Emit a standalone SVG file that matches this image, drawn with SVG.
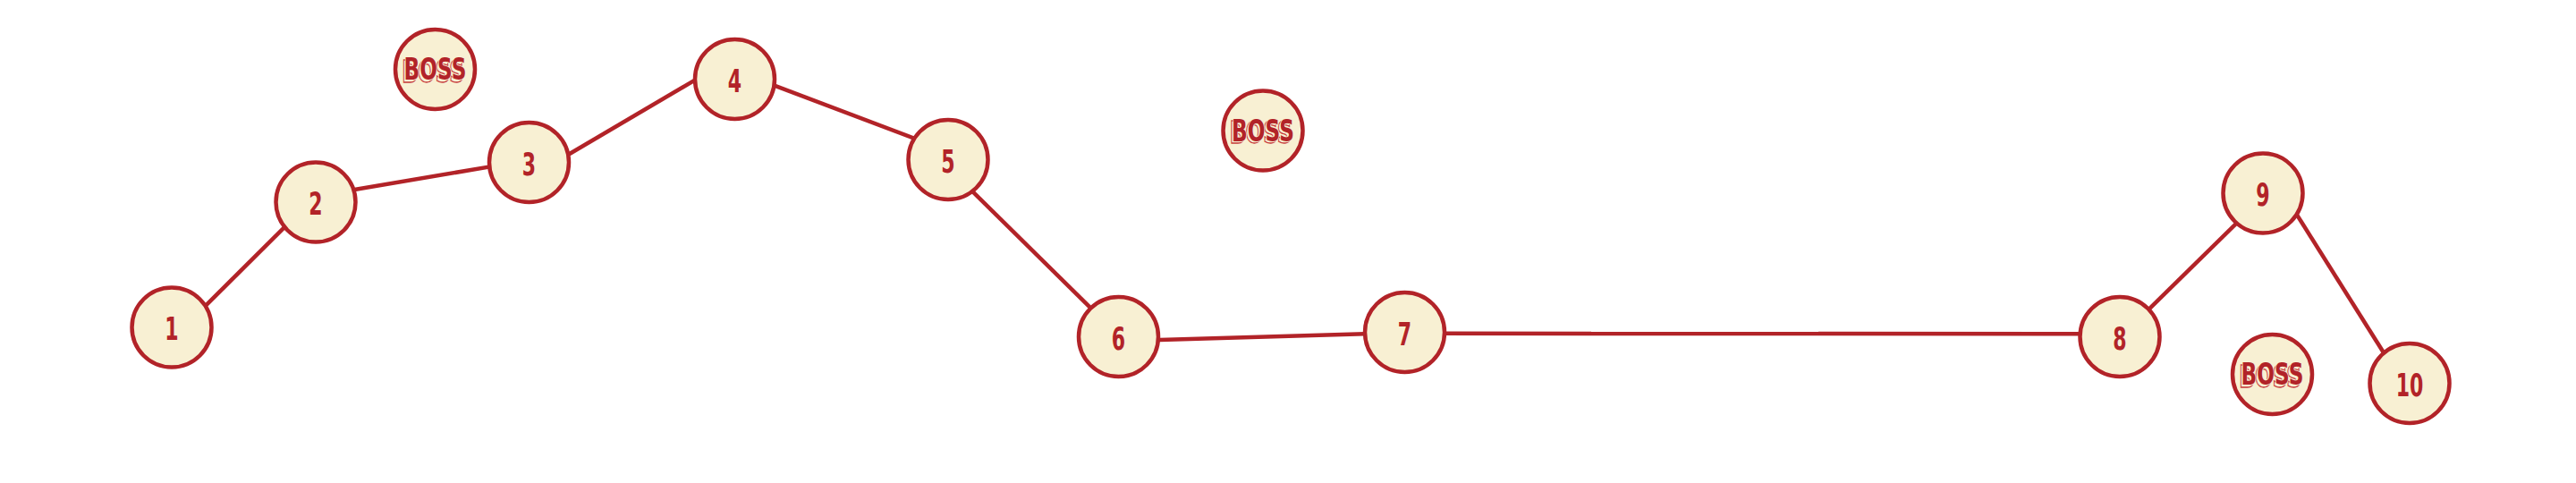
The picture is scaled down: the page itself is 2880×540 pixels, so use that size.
<svg xmlns="http://www.w3.org/2000/svg" width="2880" height="540" viewBox="0 0 2880 540">
<style>
.bg{fill:#ffffff}
.edge{stroke:#b22328;stroke-width:4.5;fill:none;stroke-linecap:butt}
.node{fill:#f8f0d3;stroke:#b22328;stroke-width:4.5}
.num{font-family:"DejaVu Sans Condensed","DejaVu Sans",sans-serif;font-weight:bold;font-size:36px;fill:#b22328;text-anchor:middle}
.boss{font-family:"DejaVu Sans Condensed","DejaVu Sans",sans-serif;font-weight:bold;font-size:34px;fill:#b22328;text-anchor:middle;stroke:#f8f0d3;stroke-width:1.8;paint-order:stroke}
.bossh{font-family:"DejaVu Sans Condensed","DejaVu Sans",sans-serif;font-weight:bold;font-size:34px;fill:#f8f0d3;stroke:#c8403f;stroke-width:1.3;text-anchor:middle}
</style>
<rect class="bg" x="0" y="0" width="2880" height="540"/>
<g id="connectors">
<line class="edge" x1="226" y1="345.6" x2="321.7" y2="250.4"/>
<line class="edge" x1="390.4" y1="213" x2="553.9" y2="185.4"/>
<line class="edge" x1="630.4" y1="175.8" x2="781.9" y2="86.6"/>
<line class="edge" x1="859.2" y1="93.2" x2="1027.5" y2="156.8"/>
<line class="edge" x1="1084.3" y1="211.1" x2="1224" y2="348.9"/>
<line class="edge" x1="1288" y1="380.3" x2="1532" y2="373"/>
<line class="edge" x1="1610" y1="372.8" x2="2332" y2="373.2"/>
<line class="edge" x1="2399.3" y1="348.9" x2="2504" y2="246.1"/>
<line class="edge" x1="2565.7" y1="236.5" x2="2667.6" y2="398.5"/>
</g>
<g id="n1"><circle class="node" cx="192" cy="366" r="44.5"/><text class="num" transform="translate(192,366) scale(0.68,1)" x="0" y="14">1</text></g>
<g id="n2"><circle class="node" cx="353" cy="226" r="44.5"/><text class="num" transform="translate(353,226) scale(0.68,1)" x="0" y="14">2</text></g>
<g id="n3"><circle class="node" cx="591.5" cy="181.5" r="44.5"/><text class="num" transform="translate(591.5,181.5) scale(0.68,1)" x="0" y="14">3</text></g>
<g id="n4"><circle class="node" cx="821.5" cy="88.5" r="44.5"/><text class="num" transform="translate(821.5,88.5) scale(0.68,1)" x="0" y="14">4</text></g>
<g id="n5"><circle class="node" cx="1060" cy="178.5" r="44.5"/><text class="num" transform="translate(1060,178.5) scale(0.68,1)" x="0" y="14">5</text></g>
<g id="n6"><circle class="node" cx="1250.5" cy="376.5" r="44.5"/><text class="num" transform="translate(1250.5,376.5) scale(0.68,1)" x="0" y="14">6</text></g>
<g id="n7"><circle class="node" cx="1570.5" cy="371.5" r="44.5"/><text class="num" transform="translate(1570.5,371.5) scale(0.68,1)" x="0" y="14">7</text></g>
<g id="n8"><circle class="node" cx="2370" cy="376.5" r="44.5"/><text class="num" transform="translate(2370,376.5) scale(0.68,1)" x="0" y="14">8</text></g>
<g id="n9"><circle class="node" cx="2530" cy="216" r="44.5"/><text class="num" transform="translate(2530,216) scale(0.68,1)" x="0" y="14">9</text></g>
<g id="n10"><circle class="node" cx="2694" cy="428.5" r="44.5"/><text class="num" transform="translate(2694,428.5) scale(0.68,1)" x="0" y="14">10</text></g>
<g id="boss1"><circle class="node" cx="486.5" cy="77.5" r="44.5"/><text class="bossh" transform="translate(486.5,77.5) scale(0.76,1)" x="-3.2" y="14">BOSS</text><text class="boss" transform="translate(486.5,77.5) scale(0.76,1)" x="0" y="11.5">BOSS</text></g>
<g id="boss2"><circle class="node" cx="1412" cy="146" r="44.5"/><text class="bossh" transform="translate(1412,146) scale(0.76,1)" x="-3.2" y="14">BOSS</text><text class="boss" transform="translate(1412,146) scale(0.76,1)" x="0" y="11.5">BOSS</text></g>
<g id="boss3"><circle class="node" cx="2540.5" cy="418.5" r="44.5"/><text class="bossh" transform="translate(2540.5,418.5) scale(0.76,1)" x="-3.2" y="14">BOSS</text><text class="boss" transform="translate(2540.5,418.5) scale(0.76,1)" x="0" y="11.5">BOSS</text></g>
</svg>
